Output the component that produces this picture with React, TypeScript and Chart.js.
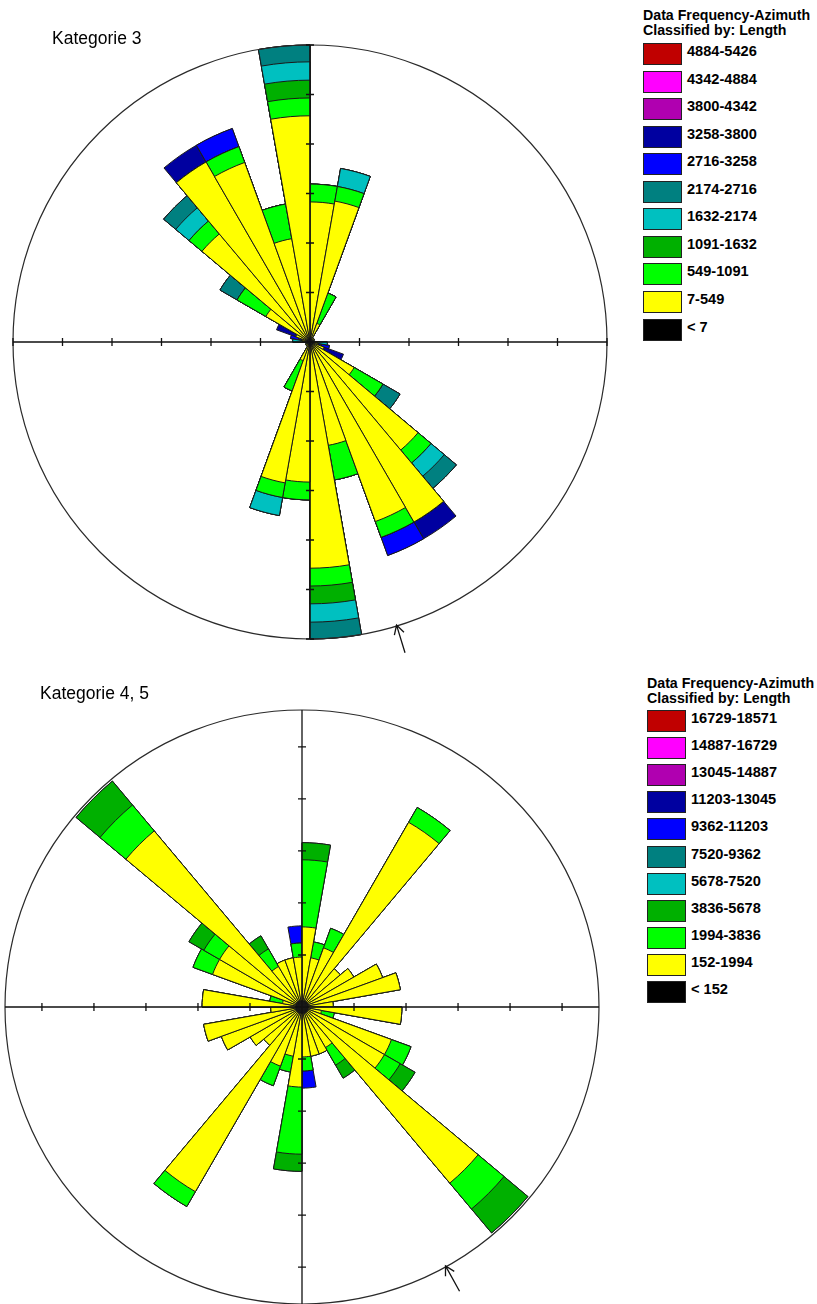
import React, { useEffect, useRef } from 'react';
import { Chart, registerables } from 'chart.js';

Chart.register(...registerables);

// ---------- categories ----------
// 10° azimuth sectors; the rose is bidirectional, so 180-360 repeats 0-180
const sectorLabels = [
  '0-10', '10-20', '20-30', '30-40', '40-50', '50-60', '60-70', '70-80', '80-90',
  '90-100', '100-110', '110-120', '120-130', '130-140', '140-150', '150-160', '160-170', '170-180',
  '180-190', '190-200', '200-210', '210-220', '220-230', '230-240', '240-250', '250-260', '260-270',
  '270-280', '280-290', '290-300', '300-310', '310-320', '320-330', '330-340', '340-350', '350-360',
];

const classColors = ['#000000', '#FFFF00', '#00FF00', '#00B000', '#00C0C0', '#008080', '#0000FF', '#0000A0', '#B000B0', '#FF00FF', '#C00000'];

const k3ClassLabels = ['< 7', '7-549', '549-1091', '1091-1632', '1632-2174', '2174-2716', '2716-3258', '3258-3800', '3800-4342', '4342-4884', '4884-5426'];
const k45ClassLabels = ['< 152', '152-1994', '1994-3836', '3836-5678', '5678-7520', '7520-9362', '9362-11203', '11203-13045', '13045-14887', '14887-16729', '16729-18571'];

// ---------- Kategorie 3 : frequency per sector (0-10 ... 170-180), per length class ----------
const k3Lt7 = [0.06, 0.06, 0.06, 0.04, 0, 0.04, 0, 0, 0.04, 0.06, 0.06, 0.06, 0.06, 0.06, 0.06, 0.06, 0.06, 0.06];
const k3C1 = [2.77, 2.83, 0.34, 0.06, 0, 0.06, 0, 0, 0.06, 0.09, 0.09, 0.24, 0.97, 2.79, 4.14, 3.8, 2.06, 4.51];
const k3C2 = [0.36, 0.3, 0.65, 0, 0, 0, 0, 0, 0, 0, 0, 0, 0.67, 0.34, 0, 0.34, 0.71, 0.36];
const k3C3 = [0, 0, 0, 0, 0, 0, 0, 0, 0, 0, 0, 0, 0, 0, 0, 0, 0, 0.36];
const k3C4 = [0, 0.37, 0, 0, 0, 0, 0, 0, 0, 0.2, 0, 0, 0, 0.35, 0, 0, 0, 0.37];
const k3C5 = [0, 0, 0, 0, 0, 0, 0, 0, 0, 0, 0, 0, 0.4, 0.32, 0, 0, 0, 0.34];
const k3C6 = [0, 0, 0, 0, 0, 0, 0, 0, 0, 0, 0.25, 0, 0, 0, 0, 0.39, 0, 0];
const k3C7 = [0, 0, 0, 0, 0, 0, 0, 0, 0, 0, 0, 0.42, 0, 0, 0.39, 0, 0, 0];
const k3Ticks = [1, 2, 3, 4, 5, 6];
const k3Max = 6;

// ---------- Kategorie 4, 5 ----------
const k45Lt7 = [0.12, 0.12, 0.12, 0.12, 0.12, 0.12, 0.12, 0.12, 0.12, 0.12, 0.12, 0.12, 0.12, 0.12, 0.12, 0.12, 0.12, 0.12];
const k45C1 = [1.42, 0.84, 1.09, 3.98, 0.84, 1.03, 1.53, 1.8, 0.48, 1.8, 0.26, 1.71, 1.71, 4.3, 0.78, 0.84, 0.84, 0.84];
const k45C2 = [1.29, 0.31, 0.4, 0.33, 0, 0, 0, 0, 0, 0, 0.25, 0.4, 0.35, 0.65, 0.39, 0, 0, 0.27];
const k45C3 = [0.33, 0, 0, 0, 0, 0, 0, 0, 0, 0, 0, 0, 0.33, 0.6, 0.29, 0, 0, 0];
const k45C6 = [0, 0, 0, 0, 0, 0, 0, 0, 0, 0, 0, 0, 0, 0, 0, 0, 0, 0.33];
const k45Ticks = [1, 2, 3, 4, 5];
const k45Max = 5.71;

const SIZE = 640;
const PAD = 23;

type RoseProps = {
  classes: { values: number[]; color: string }[];
  max: number;
  ticks: number[];
  arrowAz: number;
  left: number;
  top: number;
};

const framePlugin = {
  id: 'roseFrame',
  afterDatasetsDraw(chart: any, _args: any, opts: any) {
    const s = chart.scales.r;
    const ctx = chart.ctx as CanvasRenderingContext2D;
    const cx = s.xCenter;
    const cy = s.yCenter;
    const R = s.drawingArea;
    ctx.save();
    ctx.strokeStyle = '#2a2a2a';
    ctx.lineWidth = 1.2;
    ctx.beginPath();
    ctx.arc(cx, cy, R, 0, Math.PI * 2);
    ctx.stroke();
    ctx.strokeStyle = '#111';
    ctx.lineWidth = 1.3;
    ctx.beginPath();
    ctx.moveTo(cx - R, cy);
    ctx.lineTo(cx + R, cy);
    ctx.moveTo(cx, cy - R);
    ctx.lineTo(cx, cy + R);
    ctx.stroke();
    ctx.beginPath();
    for (const t of opts.ticks as number[]) {
      const d = s.getDistanceFromCenterForValue(t);
      ctx.moveTo(cx + d, cy - 4);
      ctx.lineTo(cx + d, cy + 4);
      ctx.moveTo(cx - d, cy - 4);
      ctx.lineTo(cx - d, cy + 4);
      ctx.moveTo(cx - 4, cy + d);
      ctx.lineTo(cx + 4, cy + d);
      ctx.moveTo(cx - 4, cy - d);
      ctx.lineTo(cx + 4, cy - d);
    }
    ctx.stroke();
    // arrow pointing at the circle
    const a = (opts.arrowAz * Math.PI) / 180;
    const ux = Math.sin(a);
    const uy = -Math.cos(a);
    const tipR = R - 1;
    const tailR = R + 28;
    const tx = cx + ux * tipR;
    const ty = cy + uy * tipR;
    ctx.lineWidth = 1.3;
    ctx.beginPath();
    ctx.moveTo(cx + ux * tailR, cy + uy * tailR);
    ctx.lineTo(tx, ty);
    const px = -uy;
    const py = ux;
    ctx.moveTo(tx + ux * 9 + px * 5, ty + uy * 9 + py * 5);
    ctx.lineTo(tx, ty);
    ctx.lineTo(tx + ux * 9 - px * 5, ty + uy * 9 - py * 5);
    ctx.stroke();
    ctx.restore();
  },
};

function Rose({ classes, max, ticks, arrowAz, left, top }: RoseProps) {
  const ref = useRef<HTMLCanvasElement>(null);
  useEffect(() => {
    if (!ref.current) return;
    let run = new Array(36).fill(0);
    const datasets = classes.map((c) => {
      run = run.map((v, i) => v + c.values[i % 18]);
      return {
        data: run.slice(),
        backgroundColor: c.color,
        borderColor: '#1a1a1a',
        borderWidth: 1,
      };
    });
    const chart = new Chart(ref.current, {
      type: 'polarArea',
      data: { labels: sectorLabels, datasets },
      options: {
        animation: false,
        responsive: false,
        maintainAspectRatio: false,
        layout: { padding: PAD },
        plugins: {
          legend: { display: false },
          tooltip: { enabled: false },
          roseFrame: { ticks, arrowAz },
        } as any,
        scales: {
          r: {
            min: 0,
            max,
            ticks: { display: false, stepSize: 1 },
            grid: { display: false },
            angleLines: { display: false },
            pointLabels: { display: false },
          },
        },
      } as any,
      plugins: [framePlugin],
    });
    return () => chart.destroy();
  }, []);
  return (
    <canvas
      ref={ref}
      width={SIZE}
      height={SIZE}
      style={{ position: 'absolute', left, top, width: SIZE, height: SIZE }}
    />
  );
}

function Legend({ left, top, labels, spacing, boxTop }: { left: number; top: number; labels: string[]; spacing: number; boxTop: number }) {
  const ordered = labels.map((l, i) => ({ l, c: classColors[i] })).reverse();
  return (
    <div style={{ position: 'absolute', left, top, width: 180 }}>
      <div style={{ position: 'absolute', left: 0, top: 0, font: 'bold 14.2px "Liberation Sans", Arial, sans-serif', lineHeight: '15px', whiteSpace: 'nowrap', color: '#000' }}>
        Data Frequency-Azimuth
        <br />
        Classified by: Length
      </div>
      {ordered.map((o, i) => (
        <React.Fragment key={i}>
          <div
            style={{
              position: 'absolute',
              left: 0,
              top: boxTop + i * spacing,
              width: 37,
              height: 20,
              background: o.c,
              border: '1px solid #222',
            }}
          />
          <div
            style={{
              position: 'absolute',
              left: 44,
              top: boxTop + i * spacing,
              font: 'bold 14.6px "Liberation Sans", Arial, sans-serif',
              lineHeight: '16px',
              whiteSpace: 'nowrap',
              color: '#000',
            }}
          >
            {o.l}
          </div>
        </React.Fragment>
      ))}
    </div>
  );
}

export default function App() {
  const k3 = [k3Lt7, k3C1, k3C2, k3C3, k3C4, k3C5, k3C6, k3C7].map((values, i) => ({ values, color: classColors[i] }));
  const k45 = [
    { values: k45Lt7, color: classColors[0] },
    { values: k45C1, color: classColors[1] },
    { values: k45C2, color: classColors[2] },
    { values: k45C3, color: classColors[3] },
    { values: k45C6, color: classColors[6] },
  ];
  return (
    <div
      style={{
        position: 'fixed',
        left: 0,
        top: 0,
        width: 817,
        height: 1304,
        overflow: 'hidden',
        background: '#fff',
        fontFamily: '"Liberation Sans", Arial, sans-serif',
      }}
    >
      <Rose classes={k3} max={k3Max} ticks={k3Ticks} arrowAz={163} left={310 - SIZE / 2} top={342 - SIZE / 2} />
      <Rose classes={k45} max={k45Max} ticks={k45Ticks} arrowAz={151} left={302 - SIZE / 2} top={1007 - SIZE / 2} />
      <div style={{ position: 'absolute', left: 52, top: 28, fontSize: 17.5, whiteSpace: 'nowrap' }}>Kategorie 3</div>
      <div style={{ position: 'absolute', left: 40, top: 683, fontSize: 17.5, whiteSpace: 'nowrap' }}>Kategorie 4, 5</div>
      <Legend left={643} top={8} labels={k3ClassLabels} spacing={27.55} boxTop={35} />
      <Legend left={647} top={676} labels={k45ClassLabels} spacing={27.1} boxTop={34} />
    </div>
  );
}
